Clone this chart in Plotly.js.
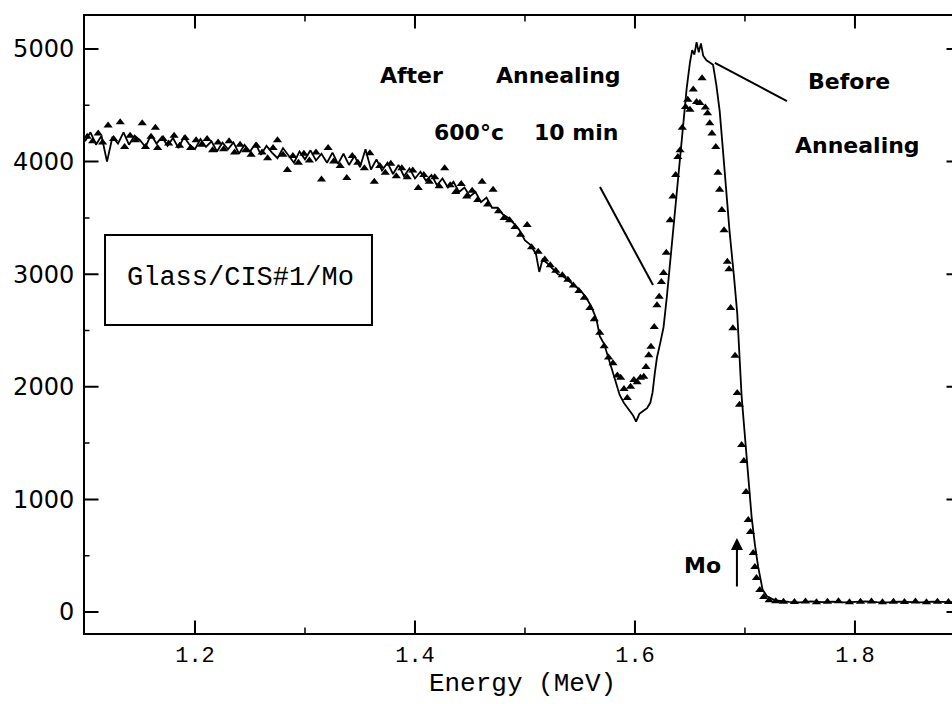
<!DOCTYPE html>
<html>
<head>
<meta charset="utf-8">
<script src="https://cdn.plot.ly/plotly-3.0.1.min.js"></script>
<style>
  html, body { margin: 0; padding: 0; overflow: hidden; background: #fff; }
  #chart { width: 970px; height: 704px; }
</style>
</head>
<body>
<div id="chart"></div>
<script>
// Before annealing (solid line)
const beforeEnergy = [
  1.100,1.105,1.110,1.115,1.120,1.125,1.130,1.135,1.140,1.145,1.150,1.155,1.160,1.165,1.170,1.175,1.180,1.185,1.190,1.195,
  1.200,1.205,1.210,1.215,1.220,1.225,1.230,1.235,1.240,1.245,1.250,1.255,1.260,1.265,1.270,1.275,1.280,1.285,1.290,1.295,
  1.300,1.305,1.310,1.315,1.320,1.325,1.330,1.335,1.340,1.345,1.350,1.355,1.360,1.365,1.370,1.375,1.380,1.385,1.390,1.395,
  1.400,1.405,1.410,1.415,1.420,1.425,1.430,1.435,1.440,1.445,1.450,1.455,1.460,1.465,1.470,1.475,1.480,1.485,1.490,1.495,
  1.500,1.505,1.510,1.513,1.516,1.520,1.525,1.530,1.535,1.540,1.545,1.550,1.555,1.560,1.565,1.568,1.572,1.577,1.582,1.586,
  1.590,1.595,1.598,1.601,1.604,1.608,1.611,1.614,1.616,1.618,1.620,1.623,1.626,1.629,1.632,1.635,1.638,1.641,1.644,1.647,
  1.650,1.652,1.654,1.656,1.658,1.660,1.662,1.665,1.668,1.671,1.674,1.677,1.680,1.683,1.686,1.690,1.693,1.697,1.700,1.703,
  1.706,1.709,1.712,1.716,1.720,1.725,1.730,1.740,1.750,1.760,1.770,1.780,1.790,1.800,1.810,1.820,1.830,1.840,1.850,1.860,
  1.870,1.880,1.890,1.895
];
const beforeCounts = [
  4180,4260,4150,4230,4000,4220,4160,4260,4150,4230,4190,4130,4240,4160,4220,4140,4210,4120,4220,4150,
  4110,4200,4130,4180,4090,4170,4110,4170,4070,4150,4090,4160,4060,4140,4080,4030,4120,4050,3990,4090,
  4020,4100,4010,4070,3990,4080,3980,4070,3970,4050,3950,4110,3930,4020,3920,3990,3890,3970,3870,3940,
  3850,3910,3830,3880,3790,3850,3770,3820,3730,3770,3690,3730,3640,3680,3590,3590,3530,3500,3450,3390,
  3300,3260,3180,3020,3130,3100,3050,3000,2980,2940,2900,2860,2800,2720,2600,2450,2380,2210,2060,1930,
  1856,1790,1750,1690,1760,1790,1810,1860,1950,2120,2260,2390,2530,2800,3100,3400,3700,4000,4300,4650,
  4880,4990,4950,5060,4970,5050,4940,4900,4880,4860,4680,4450,4100,3700,3380,2980,2650,1910,1550,1200,
  850,600,400,200,140,115,100,90,85,95,88,92,85,90,95,88,86,93,90,85,
  92,88,90,87
];

// After annealing 600 C 10 min (triangles)
const afterEnergy = [
  1.102,1.107,1.112,1.116,1.121,1.126,1.132,1.136,1.141,1.146,1.152,1.155,1.160,1.164,1.166,1.171,1.176,1.181,1.186,1.191,
  1.196,1.201,1.206,1.211,1.216,1.221,1.226,1.231,1.236,1.241,1.246,1.251,1.256,1.261,1.266,1.271,1.275,1.280,1.284,1.289,
  1.294,1.299,1.304,1.310,1.315,1.321,1.326,1.332,1.338,1.343,1.348,1.354,1.359,1.363,1.368,1.373,1.378,1.383,1.388,1.393,
  1.398,1.403,1.408,1.413,1.418,1.422,1.427,1.432,1.437,1.442,1.447,1.452,1.457,1.461,1.466,1.471,1.476,1.481,1.486,1.491,
  1.496,1.502,1.506,1.512,1.518,1.523,1.528,1.534,1.539,1.544,1.549,1.554,1.559,1.563,1.568,1.572,1.576,1.580,1.584,1.587,
  1.590,1.593,1.596,1.599,1.602,1.605,1.608,1.610,1.6125,1.6145,1.6175,1.620,1.622,1.624,1.626,1.6285,1.632,1.6345,1.637,1.639,
  1.641,1.643,1.646,1.648,1.650,1.653,1.656,1.659,1.661,1.664,1.666,1.668,1.670,1.6735,1.6755,1.677,1.679,1.681,1.684,1.6855,
  1.687,1.689,1.691,1.693,1.695,1.697,1.699,1.701,1.703,1.705,1.7075,1.709,1.7105,1.7135,1.717,1.722,1.728,1.735,1.745,1.755,
  1.765,1.775,1.785,1.795,1.805,1.815,1.825,1.835,1.845,1.855,1.865,1.875,1.885,1.893
];
const afterCounts = [
  4220,4180,4250,4170,4320,4200,4350,4130,4230,4190,4340,4130,4220,4300,4120,4200,4160,4230,4140,4210,
  4120,4190,4150,4200,4100,4170,4110,4180,4080,4150,4100,4060,4140,4080,4030,4120,4190,4060,3925,4050,
  3990,4070,4010,4080,3840,4120,4000,3960,3855,4050,3990,3940,4075,3820,3960,3900,3980,3870,3940,3860,
  3920,3765,3880,3820,3860,3780,3940,3790,3730,3800,3690,3740,3660,3820,3620,3750,3560,3500,3480,3420,
  3350,3437,3240,3200,3130,3080,3030,2990,2950,2900,2850,2790,2700,2600,2480,2360,2260,2210,2100,2080,
  1980,1900,2000,2060,2040,2080,2090,2175,2280,2355,2530,2725,2800,2930,3010,3190,3480,3690,3880,4040,
  4100,4300,4485,4550,4460,4640,4530,4520,4740,4480,4430,4340,4250,4130,3900,3750,3570,3390,3110,3045,
  2700,2520,2275,1945,1840,1483,1340,1066,817,710,524,400,302,195,133,105,95,92,88,94,
  86,91,95,87,90,93,86,92,89,94,87,91,88,90
];

// Axis tick positions and labels
const xMajorTicks = [1.2, 1.4, 1.6, 1.8];
const xTickLabels = ['1.2', '1.4', '1.6', '1.8'];
const xMinorTicks = [1.3, 1.5, 1.7];
const yMajorTicks = [0, 1000, 2000, 3000, 4000, 5000];
const yTickLabels = ['0', '1000', '2000', '3000', '4000', '5000'];
const yMinorTicks = [500, 1500, 2500, 3500, 4500];

const xRange = [1.1, 1.8955];
const yRange = [-186.5, 5293];

const traces = [
  {
    x: beforeEnergy, y: beforeCounts, type: 'scatter', mode: 'lines',
    line: { color: '#000', width: 1.8 }, name: 'Before Annealing', hoverinfo: 'skip'
  },
  {
    x: afterEnergy, y: afterCounts, type: 'scatter', mode: 'markers',
    marker: { symbol: 'triangle-up', size: 8, color: '#000' }, name: 'After Annealing', hoverinfo: 'skip'
  }
];

const sans = 'DejaVu Sans, Liberation Sans, sans-serif';
const mono = 'Liberation Mono, DejaVu Sans Mono, monospace';

function lbl(text, x, y, size) {
  return {
    text: text, x: x, y: y, xref: 'x', yref: 'y', showarrow: false,
    font: { family: sans, size: size, color: '#000', weight: 'bold' },
    xanchor: 'center', yanchor: 'middle'
  };
}

// Inward tick marks on all four sides, drawn as headless annotation arrows (pixel lengths)
const tickMarks = [];
function tickArrow(x, y, xref, yref, ax, ay, w) {
  tickMarks.push({ text: '', x: x, y: y, xref: xref, yref: yref, ax: ax, ay: ay,
    showarrow: true, arrowhead: 0, arrowwidth: w, arrowcolor: '#000', standoff: 0, startstandoff: 0 });
}
xMajorTicks.forEach(v => { tickArrow(v, 0, 'x', 'paper', 0, -14, 2); tickArrow(v, 1, 'x', 'paper', 0, 14, 2); });
xMinorTicks.forEach(v => { tickArrow(v, 0, 'x', 'paper', 0, -7, 1.5); tickArrow(v, 1, 'x', 'paper', 0, 7, 1.5); });
yMajorTicks.forEach(v => { tickArrow(0, v, 'paper', 'y', 15, 0, 2); tickArrow(1, v, 'paper', 'y', -15, 0, 2); });
yMinorTicks.forEach(v => { tickArrow(0, v, 'paper', 'y', 6, 0, 1.5); tickArrow(1, v, 'paper', 'y', -6, 0, 1.5); });

const layout = {
  width: 970, height: 704,
  margin: { l: 85, r: 10, t: 16, b: 71 },
  paper_bgcolor: '#fff', plot_bgcolor: '#fff',
  showlegend: false,
  xaxis: {
    range: xRange, autorange: false,
    tickmode: 'array', tickvals: xMajorTicks, ticktext: xTickLabels,
    ticks: '',
    showline: true, linecolor: '#000', linewidth: 2, mirror: true,
    showgrid: false, zeroline: false,
    tickfont: { family: mono, size: 22, color: '#000' },
    ticklabelstandoff: 1,
    title: { text: 'Energy (MeV)', font: { family: mono, size: 26, color: '#000' }, standoff: 2 },
    automargin: false
  },
  yaxis: {
    range: yRange, autorange: false,
    tickmode: 'array', tickvals: yMajorTicks, ticktext: yTickLabels,
    ticks: '',
    showline: true, linecolor: '#000', linewidth: 2, mirror: true,
    showgrid: false, zeroline: false,
    tickfont: { family: sans, size: 24, color: '#000' },
    ticklabelstandoff: 4,
    automargin: false
  },
  shapes: [
    { type: 'rect', xref: 'x', yref: 'y', x0: 1.1182, x1: 1.3609, y0: 2549, y1: 3348,
      line: { color: '#000', width: 2 }, fillcolor: 'rgba(0,0,0,0)' },
    { type: 'line', xref: 'x', yref: 'y', x0: 1.6727, y0: 4876, x1: 1.7382, y1: 4538,
      line: { color: '#000', width: 2 } },
    { type: 'line', xref: 'x', yref: 'y', x0: 1.5682, y0: 3774, x1: 1.6164, y1: 2904,
      line: { color: '#000', width: 2 } }
  ],
  annotations: [
    lbl('After', 1.3964, 4769, 22),
    lbl('Annealing', 1.5309, 4769, 22),
    lbl('600°c', 1.4495, 4254, 22),
    lbl('10 min', 1.5468, 4254, 22),
    lbl('Before', 1.795, 4707, 22),
    lbl('Annealing', 1.8027, 4147, 22),
    lbl('Mo', 1.6618, 417, 22),
    { text: 'Glass/CIS#1/Mo', x: 1.2418, y: 2966, xref: 'x', yref: 'y', showarrow: false,
      font: { family: mono, size: 27, color: '#000' }, xanchor: 'center', yanchor: 'middle' },
    { text: '', x: 1.6927, y: 657, xref: 'x', yref: 'y', ax: 1.6927, ay: 213, axref: 'x', ayref: 'y',
      showarrow: true, arrowhead: 2, arrowsize: 1.2, arrowwidth: 2, arrowcolor: '#000' }
  ].concat(tickMarks)
};

Plotly.newPlot('chart', traces, layout, { staticPlot: true, displayModeBar: false });
</script>
</body>
</html>
